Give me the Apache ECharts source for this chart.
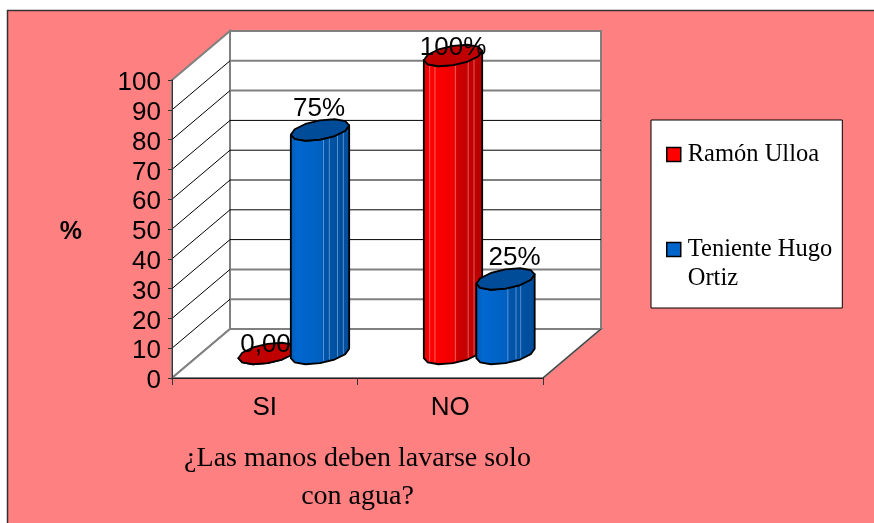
<!DOCTYPE html>
<html>
<head>
<meta charset="utf-8">
<style>html,body{margin:0;padding:0;background:#fff}#c{width:874px;height:523px}</style>
<script src="https://cdn.jsdelivr.net/npm/echarts@6/dist/echarts.min.js"></script>
</head>
<body>
<div id="c"></div>
<script>
var categories = ['SI', 'NO'];
var ramonValues = [0, 100];
var hugoValues = [75, 25];
var ramonLabels = ['0,00', '100%'];
var hugoLabels = ['75%', '25%'];
var seriesNames = ['Ramón Ulloa', 'Teniente Hugo Ortiz'];
var yTicks = [0, 10, 20, 30, 40, 50, 60, 70, 80, 90, 100];
var xTitle = '¿Las manos deben lavarse solo\ncon agua?';
var yTitle = '%';

var DEPTH_X = 58, DEPTH_Y = 49;
var SANS = '"Liberation Sans", Arial, sans-serif';
var SERIF = '"Liberation Serif", "Times New Roman", serif';

function curveY(poly, x) {
  for (var k = 0; k < poly.length - 1; k++) {
    var a = poly[k], b = poly[k + 1];
    if ((x >= a[0] && x <= b[0]) || (x >= b[0] && x <= a[0])) {
      var d = b[0] - a[0];
      return d === 0 ? a[1] : a[1] + (b[1] - a[1]) * (x - a[0]) / d;
    }
  }
  return poly[0][1];
}

function prism(api, params, cfg, values, labels) {
  var i = params.dataIndex;
  var p = api.coord([api.value(0), api.value(1)]);
  var base = api.coord([api.value(0), 0]);
  var band = api.size([1, 0])[0];
  var ru = band * 0.1415;
  var dzx = DEPTH_X * 0.22, dzy = DEPTH_Y * 0.22;
  var cx = p[0] + DEPTH_X / 2 + cfg.side * band * 0.1415;
  var topY = p[1] - DEPTH_Y / 2;
  var botY = base[1] - DEPTH_Y / 2;
  var M = 6;
  var tL = Math.PI + Math.atan2(dzx, ru);
  function pt(t, y) {
    return [cx + ru * Math.cos(t) + dzx * Math.sin(t), y - dzy * Math.sin(t)];
  }
  var cap = [], front = [], back = [], bottom = [], k;
  for (k = 0; k < 2 * M; k++) cap.push(pt(tL + k * Math.PI / M, topY));
  for (k = 0; k <= M; k++) front.push(pt(tL + k * Math.PI / M, topY));
  for (k = 0; k <= M; k++) bottom.push(pt(tL + k * Math.PI / M, botY));
  for (k = M; k >= 0; k--) back.push(bottom[k]);
  var left = front[0][0], right = front[M][0], w = right - left;
  var children = [{
    type: 'polygon', z2: 1,
    shape: { points: front.concat(back) },
    style: {
      fill: new echarts.graphic.LinearGradient(0, 0, 1, 0, cfg.stops),
      stroke: '#000', lineWidth: 1.8, lineJoin: 'round'
    }
  }];
  if (botY - topY > 1) {
    cfg.stripes[i].forEach(function (f) {
      var x = left + f * w;
      children.push({
        type: 'line', z2: 2,
        shape: { x1: x, y1: curveY(front, x) + 1, x2: x, y2: curveY(bottom, x) - 1.5 },
        style: { stroke: cfg.stripe, lineWidth: 1 }
      });
    });
  }
  children.push({
    type: 'polygon', z2: 3,
    shape: { points: cap },
    style: { fill: cfg.cap, stroke: '#000', lineWidth: 1.8, lineJoin: 'round' }
  });
  var n = cfg.nudge[i];
  children.push({
    type: 'text', z2: 4,
    style: {
      x: cx + n[0], y: topY - dzy + n[1], text: labels[i],
      fill: '#000', font: '26px ' + SANS, align: 'center', verticalAlign: 'middle'
    }
  });
  return { type: 'group', children: children };
}

var ramonCfg = {
  side: -1,
  cap: '#C00000',
  stripe: 'rgba(255,170,170,0.55)',
  stripes: [[], [0.10, 0.19, 0.54, 0.76, 0.86]],
  stops: [
    { offset: 0, color: '#E00000' }, { offset: 0.12, color: '#FF0000' },
    { offset: 0.52, color: '#F00000' }, { offset: 0.58, color: '#CC0000' },
    { offset: 1, color: '#B80000' }
  ],
  nudge: [[-2, 2], [0, 3]]
};
var hugoCfg = {
  side: 1,
  cap: '#004C99',
  stripe: 'rgba(150,195,245,0.55)',
  stripes: [[0.56, 0.66, 0.80, 0.90], [0.54, 0.68, 0.76]],
  stops: [
    { offset: 0, color: '#0058B0' }, { offset: 0.12, color: '#0068D0' },
    { offset: 0.52, color: '#0060C0' }, { offset: 0.58, color: '#0054A8' },
    { offset: 1, color: '#004C99' }
  ],
  nudge: [[-1, -10], [9, -10]]
};

function renderWalls(params, api) {
  var cs = params.coordSys;
  var t = api.value(1);
  var y = api.coord([0, t])[1];
  var xL = cs.x, xR = cs.x + cs.width;
  var yB = cs.y + cs.height, yT = cs.y;
  var strong = t <= 20 || t >= 80;
  var children = [];
  if (params.dataIndex === 0) {
    var edge = { stroke: '#808080', lineWidth: 2 };
    children.push({ type: 'polygon', shape: { points: [[xL + DEPTH_X, yT - DEPTH_Y], [xR + DEPTH_X, yT - DEPTH_Y], [xR + DEPTH_X, yB - DEPTH_Y], [xL + DEPTH_X, yB - DEPTH_Y]] }, style: { fill: '#fff', stroke: edge.stroke, lineWidth: 2 } });
    children.push({ type: 'polygon', shape: { points: [[xL, yT], [xL + DEPTH_X, yT - DEPTH_Y], [xL + DEPTH_X, yB - DEPTH_Y], [xL, yB]] }, style: { fill: '#fff', stroke: edge.stroke, lineWidth: 2 } });
    children.push({ type: 'polygon', shape: { points: [[xL, yB], [xR, yB], [xR + DEPTH_X, yB - DEPTH_Y], [xL + DEPTH_X, yB - DEPTH_Y]] }, style: { fill: '#fff', stroke: edge.stroke, lineWidth: 2 } });
    children.push({ type: 'line', shape: { x1: xR, y1: yB, x2: xR + DEPTH_X, y2: yB - DEPTH_Y }, style: { stroke: '#333', lineWidth: 1 } });
  }
  if (t > 0 && t < 100) {
    children.push({ type: 'line', shape: { x1: xL + DEPTH_X, y1: y - DEPTH_Y, x2: xR + DEPTH_X, y2: y - DEPTH_Y }, style: { stroke: strong ? '#808080' : '#000', lineWidth: strong ? 2 : 1 } });
    children.push({ type: 'line', shape: { x1: xL, y1: y, x2: xL + DEPTH_X, y2: y - DEPTH_Y }, style: { stroke: '#000', lineWidth: 1 } });
  }
  return { type: 'group', children: children };
}

function pairs(arr) { return arr.map(function (v, i) { return [i, v]; }); }

var chart = echarts.init(document.getElementById('c'), null, { renderer: 'canvas' });
chart.setOption({
  animation: false,
  backgroundColor: '#fff',
  graphic: [{
    type: 'rect', z: -10, silent: true,
    shape: { x: 7.5, y: 10.5, width: 880, height: 530 },
    style: { fill: '#FF8080', stroke: '#333', lineWidth: 1.5 }
  }],
  grid: { left: 172, right: 331, top: 80, height: 298, containLabel: false },
  xAxis: {
    type: 'category', data: categories, z: 10,
    name: xTitle, nameLocation: 'middle', nameGap: 62,
    nameTextStyle: { color: '#000', fontFamily: SERIF, fontSize: 28, lineHeight: 38 },
    axisLine: { lineStyle: { color: '#222', width: 1 } },
    axisTick: { show: true, length: 7, alignWithLabel: false, lineStyle: { color: '#333' } },
    axisLabel: { color: '#000', fontFamily: SANS, fontSize: 26, margin: 17 },
    splitLine: { show: false }
  },
  yAxis: {
    type: 'value', min: 0, max: 100, interval: 10, z: 10,
    name: yTitle, nameLocation: 'middle', nameGap: 90, nameRotate: 0,
    nameTextStyle: { color: '#000', fontFamily: SANS, fontSize: 25, fontWeight: 'bold', verticalAlign: 'top', lineHeight: 6 },
    axisLine: { show: true, lineStyle: { color: '#333', width: 1 } },
    axisTick: { show: true, length: 4, lineStyle: { color: '#333' } },
    axisLabel: { color: '#000', fontFamily: SANS, fontSize: 26, margin: 11, verticalAlign: 'top', lineHeight: 6 },
    splitLine: { show: false }
  },
  legend: {
    show: true, orient: 'vertical', left: 651, top: 120,
    selectedMode: false,
    backgroundColor: '#fff', borderColor: '#000', borderWidth: 1,
    padding: [18, 10, 13, 15], itemGap: 33, itemWidth: 14, itemHeight: 14,
    data: seriesNames.map(function (n) { return { name: n, icon: 'rect' }; }),
    itemStyle: { borderColor: '#000', borderWidth: 1.5 },
    textStyle: { color: '#000', fontFamily: SERIF, fontSize: 24.5, lineHeight: 29, padding: [4, 0, 0, 2] },
    formatter: function (n) { return n === seriesNames[1] ? '\nTeniente Hugo\nOrtiz' : n; }
  },
  series: [
    {
      type: 'custom', name: 'walls', z: 1, silent: true, clip: false,
      coordinateSystem: 'cartesian2d',
      data: yTicks.map(function (t) { return [0, t]; }),
      encode: { x: 0, y: 1 },
      renderItem: renderWalls
    },
    {
      type: 'custom', name: seriesNames[0], z: 2, clip: false,
      coordinateSystem: 'cartesian2d',
      itemStyle: { color: '#FF0000' },
      data: pairs(ramonValues),
      encode: { x: 0, y: 1 },
      renderItem: function (params, api) { return prism(api, params, ramonCfg, ramonValues, ramonLabels); }
    },
    {
      type: 'custom', name: seriesNames[1], z: 3, clip: false,
      coordinateSystem: 'cartesian2d',
      itemStyle: { color: '#0066CC' },
      data: pairs(hugoValues),
      encode: { x: 0, y: 1 },
      renderItem: function (params, api) { return prism(api, params, hugoCfg, hugoValues, hugoLabels); }
    }
  ]
});
</script>
</body>
</html>
